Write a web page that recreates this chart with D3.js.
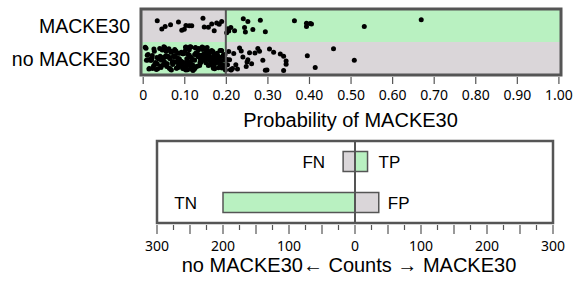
<!DOCTYPE html>
<html><head><meta charset="utf-8">
<script src="https://cdn.jsdelivr.net/npm/d3@7"></script>
<style>body{margin:0;background:#fff} svg{display:block}</style>
</head><body>
<svg id="c" width="575" height="281"></svg>
<script>
// ---------- DATA ----------
const rowLabels = ["MACKE30", "no MACKE30"];
const probTicks = [0, 0.1, 0.2, 0.3, 0.4, 0.5, 0.6, 0.7, 0.8, 0.9, 1.0];
const probTickLabels = ["0", "0.10", "0.20", "0.30", "0.40", "0.50", "0.60", "0.70", "0.80", "0.90", "1.00"];
const threshold = 0.2;
// predicted probability, actual MACKE30
const probMACKE30 = [0.035, 0.046, 0.054, 0.067, 0.086, 0.094, 0.100, 0.104, 0.112, 0.118, 0.145, 0.148, 0.158, 0.166, 0.172, 0.178, 0.184, 0.190,
  0.202, 0.205, 0.207, 0.221, 0.242, 0.245, 0.247, 0.253, 0.265, 0.283, 0.295, 0.365, 0.394, 0.394, 0.403, 0.406, 0.533, 0.670, 0.212];
// predicted probability, actual no MACKE30
const probNoMACKE30 = [
  0.006, 0.008, 0.011, 0.013, 0.015, 0.017, 0.019, 0.012, 0.009,
  0.021, 0.023, 0.024, 0.026, 0.028, 0.029, 0.031, 0.033, 0.034, 0.036, 0.038, 0.039, 0.022, 0.027,
  0.041, 0.042, 0.044, 0.045, 0.047, 0.048, 0.049, 0.051, 0.052, 0.053, 0.055, 0.056, 0.058, 0.059, 0.043, 0.046, 0.054,
  0.061, 0.062, 0.063, 0.065, 0.066, 0.067, 0.068, 0.069, 0.071, 0.072, 0.073, 0.074, 0.076, 0.077, 0.078, 0.079, 0.064, 0.075, 0.070,
  0.081, 0.082, 0.083, 0.084, 0.085, 0.086, 0.087, 0.088, 0.089, 0.091, 0.092, 0.093, 0.094, 0.095, 0.096, 0.097, 0.098, 0.099, 0.080, 0.090, 0.085, 0.093,
  0.101, 0.102, 0.103, 0.104, 0.105, 0.106, 0.107, 0.108, 0.109, 0.110, 0.111, 0.112, 0.113, 0.114, 0.115, 0.116, 0.117, 0.118, 0.119, 0.104, 0.108, 0.112, 0.116,
  0.121, 0.122, 0.123, 0.124, 0.125, 0.126, 0.127, 0.128, 0.129, 0.131, 0.132, 0.133, 0.134, 0.135, 0.136, 0.137, 0.138, 0.139, 0.120, 0.130, 0.125,
  0.141, 0.142, 0.143, 0.144, 0.146, 0.147, 0.148, 0.149, 0.151, 0.152, 0.153, 0.154, 0.156, 0.157, 0.158, 0.159, 0.145, 0.150, 0.155, 0.140,
  0.161, 0.162, 0.163, 0.164, 0.166, 0.167, 0.168, 0.169, 0.171, 0.172, 0.173, 0.174, 0.176, 0.177, 0.178, 0.165, 0.170, 0.175, 0.179,
  0.181, 0.182, 0.183, 0.185, 0.186, 0.187, 0.189, 0.191, 0.192, 0.193, 0.195, 0.196, 0.198, 0.184, 0.188, 0.190, 0.194, 0.197, 0.199,
  0.016, 0.035, 0.057, 0.067, 0.083, 0.097, 0.106, 0.114, 0.118, 0.127, 0.133, 0.143, 0.152, 0.163, 0.172, 0.186, 0.058,
  0.204, 0.213, 0.207, 0.233, 0.237, 0.241, 0.249, 0.251, 0.253, 0.257, 0.277, 0.281, 0.289, 0.295, 0.299, 0.305, 0.315, 0.331,
  0.339, 0.345, 0.339, 0.345, 0.396, 0.415, 0.459, 0.509, 0.201, 0.203, 0.209, 0.211, 0.216, 0.219, 0.224, 0.228, 0.262, 0.270
];
const outcomeNames = ["FN", "TP", "TN", "FP"];
const outcomeRows = ["MACKE30", "MACKE30", "no MACKE30", "no MACKE30"];
const outcomeCounts = [-18, 19, -200, 36];
const countTicks = [-300, -200, -100, 0, 100, 200, 300];
const countTickLabels = ["300", "200", "100", "0", "100", "200", "300"];

// ---------- STYLE ----------
const GREEN = "#b9f1c1", GRAY = "#dad6d9", FRAME = "#555555";
const svg = d3.select("#c");
const LABEL_FONT = "'Liberation Sans', Arial, sans-serif";
const TICK_FONT = "'Noto Sans', 'Open Sans', sans-serif";

// ---------- TOP PANEL ----------
const tp = {left: 141, right: 561, top: 9, bottom: 75};
const x = d3.scaleLinear().domain([0, 1]).range([142.7, 558.4]);
const yBand = d3.scaleBand().domain(rowLabels).range([tp.top, tp.bottom]);

const bg = [
  {row: "MACKE30", x0: tp.left, x1: x(threshold), fill: GRAY},
  {row: "MACKE30", x0: x(threshold), x1: tp.right, fill: GREEN},
  {row: "no MACKE30", x0: tp.left, x1: x(threshold), fill: GREEN},
  {row: "no MACKE30", x0: x(threshold), x1: tp.right, fill: GRAY}
];
svg.append("g").selectAll("rect").data(bg).join("rect")
  .attr("x", d => d.x0).attr("width", d => d.x1 - d.x0)
  .attr("y", d => yBand(d.row)).attr("height", yBand.bandwidth())
  .attr("fill", d => d.fill);

function jit(i, seed) {
  const s = Math.sin(i * 12.9898 + seed * 78.233) * 43758.5453;
  return (s - Math.floor(s)) * 2 - 1;
}
const pts = [];
probMACKE30.forEach((p, i) => pts.push({p, row: "MACKE30", j: jit(i, 1) * 7.5}));
probNoMACKE30.forEach((p, i) => pts.push({p, row: "no MACKE30", j: jit(i, 2) * 12}));
svg.append("g").selectAll("circle").data(pts).join("circle")
  .attr("cx", d => x(d.p))
  .attr("cy", d => yBand(d.row) + yBand.bandwidth() / 2 + d.j)
  .attr("r", 2.5).attr("fill", "#000");

svg.append("line").attr("x1", x(threshold)).attr("x2", x(threshold))
  .attr("y1", tp.top).attr("y2", tp.bottom).attr("stroke", FRAME).attr("stroke-width", 2);
svg.append("rect").attr("x", tp.left).attr("y", tp.top)
  .attr("width", tp.right - tp.left).attr("height", tp.bottom - tp.top)
  .attr("fill", "none").attr("stroke", FRAME).attr("stroke-width", 3);

svg.append("g").selectAll("text").data(rowLabels).join("text")
  .attr("x", 130).attr("y", d => yBand(d) + yBand.bandwidth() / 2)
  .attr("dy", "0.36em").attr("text-anchor", "end")
  .style("font-family", LABEL_FONT).style("font-size", "19.5px").attr("fill", "#000")
  .text(d => d);

const axTop = d3.axisBottom(x).tickValues(probTicks)
  .tickFormat((d, i) => probTickLabels[i]).tickSize(7).tickSizeOuter(0);
const gTop = svg.append("g").attr("transform", `translate(0,${tp.bottom + 2})`).call(axTop);
gTop.select(".domain").remove();
gTop.selectAll(".tick line").attr("stroke", FRAME).attr("stroke-width", 1.2);
gTop.selectAll(".tick text").attr("y", 13).style("font-family", TICK_FONT).style("font-size", "14px").attr("fill", "#000");
svg.append("text").attr("x", (x(0) + x(1)) / 2).attr("y", 127).attr("text-anchor", "middle")
  .style("font-family", LABEL_FONT).style("font-size", "20px").text("Probability of MACKE30");

// ---------- BOTTOM PANEL ----------
const bp = {left: 157, right: 553, top: 141, bottom: 223};
const xc = d3.scaleLinear().domain([-300, 300]).range([bp.left, bp.right]);
const yb = d3.scaleBand().domain(rowLabels).range([bp.top, bp.bottom]);
const barH = 20;

svg.append("rect").attr("x", bp.left).attr("y", bp.top)
  .attr("width", bp.right - bp.left).attr("height", bp.bottom - bp.top)
  .attr("fill", "#fff").attr("stroke", FRAME).attr("stroke-width", 2.5);

const bars = outcomeNames.map((n, i) => ({name: n, row: outcomeRows[i], v: outcomeCounts[i]}));
svg.append("g").selectAll("rect").data(bars).join("rect")
  .attr("x", d => xc(Math.min(0, d.v))).attr("width", d => Math.abs(xc(d.v) - xc(0)))
  .attr("y", d => yb(d.row) + yb.bandwidth() / 2 - barH / 2).attr("height", barH)
  .attr("fill", d => (d.name === "TP" || d.name === "TN") ? GREEN : GRAY)
  .attr("stroke", FRAME).attr("stroke-width", 1.5);

const labelGap = {FN: 18, TP: 11, TN: 26, FP: 9};
svg.append("g").selectAll("text").data(bars).join("text")
  .attr("x", d => d.v < 0 ? xc(d.v) - labelGap[d.name] : xc(d.v) + labelGap[d.name])
  .attr("y", d => yb(d.row) + yb.bandwidth() / 2)
  .attr("dy", "0.36em").attr("text-anchor", d => d.v < 0 ? "end" : "start")
  .style("font-family", LABEL_FONT).style("font-size", "17px").text(d => d.name);

svg.append("line").attr("x1", xc(0)).attr("x2", xc(0)).attr("y1", bp.top).attr("y2", bp.bottom)
  .attr("stroke", FRAME).attr("stroke-width", 2);

const minorTicks = d3.range(-300, 301, 25);
const gB = svg.append("g");
gB.selectAll("line").data(minorTicks).join("line")
  .attr("x1", d => xc(d)).attr("x2", d => xc(d))
  .attr("y1", bp.bottom + 2).attr("y2", d => bp.bottom + (d % 50 === 0 ? 11 : 7))
  .attr("stroke", FRAME).attr("stroke-width", 1.2);
gB.selectAll("text").data(countTicks).join("text")
  .attr("x", d => xc(d)).attr("y", 250.5).attr("text-anchor", "middle")
  .style("font-family", TICK_FONT).style("font-size", "14px")
  .text((d, i) => countTickLabels[i]);
svg.append("text").attr("x", 349).attr("y", 272).attr("text-anchor", "middle")
  .style("font-family", LABEL_FONT).style("font-size", "20px")
  .text("no MACKE30\u2190 Counts \u2192 MACKE30");
</script>
</body></html>
